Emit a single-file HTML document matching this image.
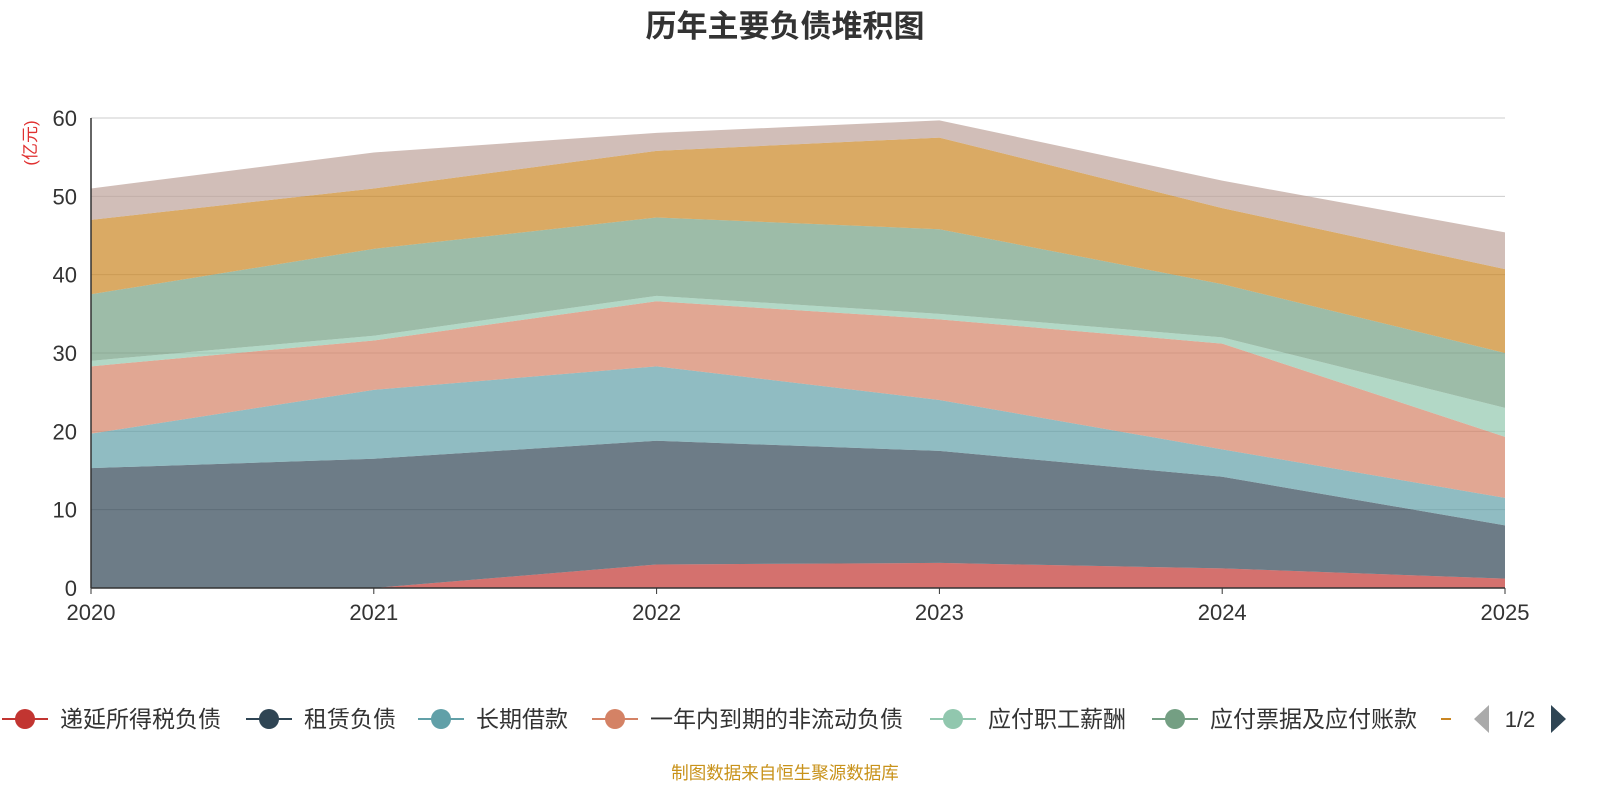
<!DOCTYPE html>
<html><head><meta charset="utf-8"><style>
body{margin:0;background:#fff;font-family:"Liberation Sans","Noto Sans CJK SC",sans-serif}
svg text{font-family:"Liberation Sans","Noto Sans CJK SC",sans-serif}
</style></head><body>
<svg id="chart" width="1600" height="800">
<text x="785" y="37" text-anchor="middle" font-size="31" font-weight="bold" fill="#333">历年主要负债堆积图</text>
<text transform="translate(36,143) rotate(-90)" text-anchor="middle" font-size="17" fill="#e03030">(亿元)</text>
<g id="grid"></g><g id="areas"></g><g id="axes"></g><g id="legend"></g>
<text x="785" y="779" text-anchor="middle" font-size="17.5" fill="#c8921a">制图数据来自恒生聚源数据库</text>
</svg>
<script>
const years=["2020","2021","2022","2023","2024","2025"];
const yTicks=[0,10,20,30,40,50,60];
const names=["递延所得税负债","租赁负债","长期借款","一年内到期的非流动负债","应付职工薪酬","应付票据及应付账款","短期借款","其他应付款"];
const colors=["#c23531","#2f4554","#61a0a8","#d48265","#91c7ae","#749f83","#ca8622","#bda29a"];
const s1=[0,0,3,3.2,2.5,1.2];
const s2=[15.3,16.5,15.8,14.3,11.7,6.8];
const s3=[4.4,8.8,9.5,6.5,3.5,3.5];
const s4=[8.6,6.3,8.3,10.3,13.5,7.8];
const s5=[0.7,0.6,0.7,0.7,0.8,3.7];
const s6=[8.5,11.1,10.0,10.8,6.8,7.0];
const s7=[9.5,7.7,8.5,11.7,9.7,10.7];
const s8=[4.0,4.6,2.3,2.2,3.5,4.7];
const series=[s1,s2,s3,s4,s5,s6,s7,s8];
const NS="http://www.w3.org/2000/svg";
const X0=91,X1=1505,Y0=588,Y1=118,YMAX=60;
const xs=i=>X0+(X1-X0)*i/(years.length-1);
const ys=v=>Y0-(Y0-Y1)*v/YMAX;
function mk(t,a,p){const e=document.createElementNS(NS,t);for(const k in a)e.setAttribute(k,a[k]);p.appendChild(e);return e;}
const grid=document.getElementById('grid'),axes=document.getElementById('axes'),areas=document.getElementById('areas'),legend=document.getElementById('legend');
yTicks.forEach(v=>{
 if(v>0){const l=mk('line',{x1:X0,x2:X1,y1:ys(v),y2:ys(v),stroke:'#ccc','stroke-width':1},grid);
 
 }
 const t=mk('text',{x:X0-14,y:ys(v)+8,'text-anchor':'end','font-size':22,fill:'#333'},axes);t.textContent=v;
 
 
});
let base=years.map(()=>0);
series.forEach((s,k)=>{
 const top=base.map((b,i)=>b+s[i]);
 let d='M'+top.map((v,i)=>xs(i)+','+ys(v)).join('L');
 for(let i=years.length-1;i>=0;i--)d+='L'+xs(i)+','+ys(base[i]);
 const p=mk('path',{d:d+'Z',fill:colors[k],'fill-opacity':0.7,stroke:'none'},areas);
 
 
 base=top;
});
const ax=mk('line',{x1:X0,x2:X0,y1:Y1,y2:Y0,stroke:'#333','stroke-width':1.5},axes);


const bx=mk('line',{x1:X0,x2:X1,y1:Y0,y2:Y0,stroke:'#333','stroke-width':1.5},axes);


years.forEach((y,i)=>{
 mk('line',{x1:xs(i),x2:xs(i),y1:Y0,y2:Y0+6,stroke:'#333'},axes);
 const t=mk('text',{x:xs(i),y:Y0+32,'text-anchor':'middle','font-size':22,fill:'#333'},axes);t.textContent=y;
 
 
});
const lx=[2,246,418,592,930,1152];
for(let k=0;k<6;k++){
 const g=mk('g',{},legend);
 
 
 mk('line',{x1:lx[k],x2:lx[k]+46,y1:719,y2:719,stroke:colors[k],'stroke-width':2},g);
 mk('circle',{cx:lx[k]+23,cy:719,r:10,fill:colors[k]},g);
 const t=mk('text',{x:lx[k]+58,y:727,'font-size':23,fill:'#333'},g);t.textContent=names[k];
}
const d7=mk('line',{x1:1441,x2:1451,y1:719,y2:719,stroke:colors[6],'stroke-width':2},legend);


const pl=mk('path',{d:'M1489,705L1474,719L1489,733Z',fill:'#aaa'},legend);


const pt=mk('text',{x:1520,y:727,'text-anchor':'middle','font-size':22,fill:'#333'},legend);pt.textContent='1/2';


const pr=mk('path',{d:'M1551,705L1566,719L1551,733Z',fill:'#2f4554'},legend);


</script>
</body></html>
